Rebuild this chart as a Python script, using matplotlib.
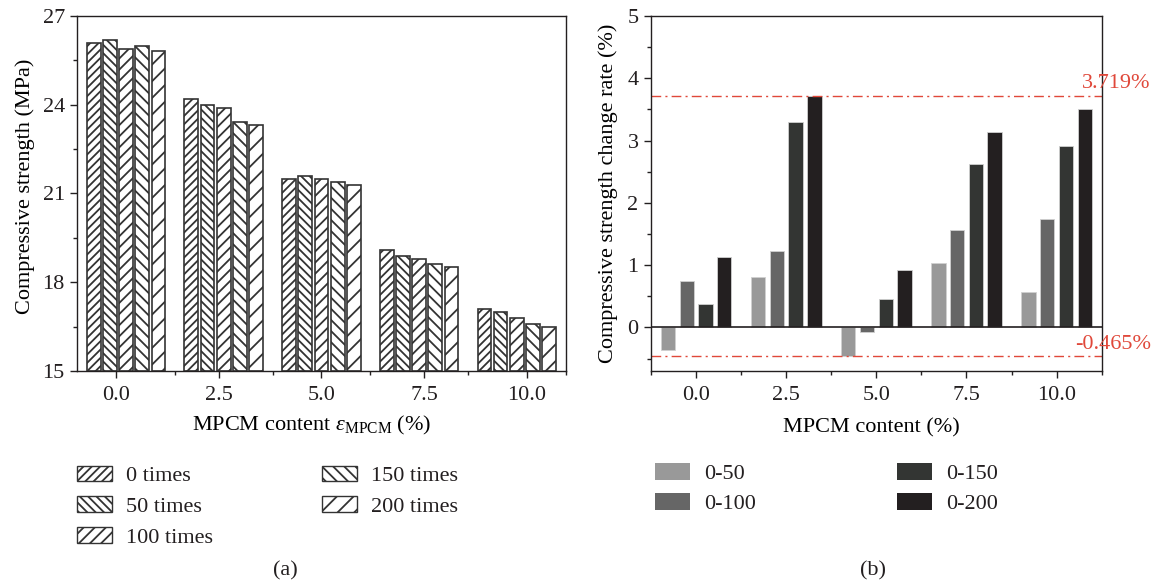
import numpy as np
import matplotlib
matplotlib.use("Agg")
import matplotlib.pyplot as plt
from matplotlib.patches import Patch
from matplotlib.ticker import FixedLocator
import matplotlib.transforms as mtransforms

plt.rcParams['font.family'] = 'Liberation Serif'
plt.rcParams['mathtext.fontset'] = 'custom'
plt.rcParams['mathtext.rm'] = 'Liberation Serif'
plt.rcParams['mathtext.it'] = 'Liberation Serif:italic'
plt.rcParams['font.size'] = 16
plt.rcParams['hatch.linewidth'] = 1.3
plt.rcParams['axes.linewidth'] = 1.0
plt.rcParams['text.color'] = '#231f20'

# compressive strength (MPa) after freeze-thaw cycles
content = ['0.0', '2.5', '5.0', '7.5', '10.0']
cycles = ['0 times', '50 times', '100 times', '150 times', '200 times']
strength_0 = [26.1, 24.2, 21.5, 19.1, 17.1]
strength_50 = [26.2, 24.0, 21.6, 18.9, 17.0]
strength_100 = [25.9, 23.9, 21.5, 18.8, 16.8]
strength_150 = [26.0, 23.4, 21.4, 18.6, 16.6]
strength_200 = [25.8, 23.3, 21.3, 18.5, 16.5]

# change rate (%) between cycle counts
ranges = ['0-50', '0-100', '0-150', '0-200']
rate_50 = [-0.37, 0.81, -0.465, 1.03, 0.57]
rate_100 = [0.75, 1.23, -0.08, 1.56, 1.74]
rate_150 = [0.37, 3.30, 0.45, 2.62, 2.92]
rate_200 = [1.13, 3.719, 0.92, 3.13, 3.50]
rate_max = 3.719
rate_min = -0.465

hatches = ['////', '\\\\\\\\', '///', '\\\\\\', '//']
greys = ['#999999', '#666666', '#333533', '#231f20']
red = '#e0483a'
ink = '#231f20'

fig = plt.figure(figsize=(11.57, 5.86), dpi=100)
ax1 = fig.add_axes([0.0668, 0.3669, 0.4221, 0.6058])
ax2 = fig.add_axes([0.5627, 0.3669, 0.3895, 0.6058])

idx = np.arange(len(content))

# (a) hatched bars
series = [strength_0, strength_50, strength_100, strength_150, strength_200]
pitch, width = 0.166, 0.141
for k, vals in enumerate(series):
    ax1.bar(idx + (k - 2) * pitch, np.array(vals) - 15, width, bottom=15,
            facecolor='white', edgecolor='#333333', linewidth=1.2,
            hatch=hatches[k], label=cycles[k])

ax1.set_xlim(-0.5, 4.5)
ax1.set_ylim(15, 27)
ax1.set_yticks([15, 18, 21, 24, 27])
ax1.yaxis.set_minor_locator(FixedLocator(np.arange(16.5, 27, 3)))
# category labels sit on a slightly wider spacing than the bar groups
ax1.set_xticks(2 + (idx - 2) * 1.05)
ax1.set_xticklabels(content)
ax1.xaxis.set_minor_locator(FixedLocator(np.arange(0.5, 4.6, 1.0)))
ax1.set_ylabel('Compressive strength (MPa)')
ax1.set_xlabel(r'MPCM content $\varepsilon_{\mathrm{MPCM}}$ (%)')
ax1.yaxis.set_label_coords(-0.087, 0.52)
ax1.xaxis.set_label_coords(0.48, -0.122)

# (b) grey bars
rates = [rate_50, rate_100, rate_150, rate_200]
pitch, width = 0.208, 0.159
for k, vals in enumerate(rates):
    ax2.bar(idx + (k - 1.5) * pitch, vals, width, color=greys[k],
            edgecolor='#d0d0d0', linewidth=0.6, label=ranges[k])
ax2.axhline(0, color=ink, lw=1.2)

dash = (0, (7, 3, 1.5, 3))
trans = mtransforms.blended_transform_factory(ax2.transAxes, ax2.transData)
for v in (rate_max, rate_min):
    ax2.axhline(v, color=red, lw=1.0, linestyle=dash)
    ax2.annotate('%.3f%%' % v, xy=(1.109, v), xycoords=trans,
                 xytext=(0, 2), textcoords='offset points',
                 ha='right', va='bottom', color=red, fontsize=16,
                 annotation_clip=False)

ax2.set_xlim(-0.5, 4.5)
ax2.set_ylim(-0.7, 5)
ax2.set_yticks([0, 1, 2, 3, 4, 5])
ax2.yaxis.set_minor_locator(FixedLocator(np.arange(-0.5, 5, 0.5)))
ax2.set_xticks(idx)
ax2.set_xticklabels(content)
ax2.xaxis.set_minor_locator(FixedLocator(np.arange(-0.5, 4.6, 1.0)))
ax2.set_ylabel('Compressive strength change rate (%)')
ax2.set_xlabel('MPCM content (%)')
ax2.yaxis.set_label_coords(-0.073, 0.5)
ax2.xaxis.set_label_coords(0.49, -0.133)

for ax in (ax1, ax2):
    for s in ax.spines.values():
        s.set_color(ink)
    ax.tick_params(which='major', direction='out', length=5, width=1.0,
                   colors=ink, labelsize=16, pad=4)
    ax.tick_params(which='minor', direction='out', length=3, width=1.0,
                   colors=ink)
    ax.tick_params(axis='x', which='major', pad=6)

# legends below each panel
h1 = [Patch(facecolor='white', edgecolor='#333333', hatch=hatches[k],
            label=cycles[k]) for k in range(5)]
fig.legend(handles=h1, loc='upper left', bbox_to_anchor=(0.0665, 0.205),
           ncol=2, frameon=False, borderpad=0, borderaxespad=0,
           handlelength=1.6, handleheight=0.7, handletextpad=0.6,
           labelspacing=0.45, columnspacing=4.9, fontsize=16)

h2 = [Patch(facecolor=greys[k], label=ranges[k]) for k in range(4)]
fig.legend(handles=h2, loc='upper left', bbox_to_anchor=(0.566, 0.21),
           ncol=2, frameon=False, borderpad=0, borderaxespad=0,
           handlelength=1.6, handleheight=0.8, handletextpad=0.6,
           labelspacing=0.4, columnspacing=6.35, fontsize=16)

fig.text(0.2468, 0.025, '(a)', ha='center', va='center', fontsize=16)
fig.text(0.7545, 0.025, '(b)', ha='center', va='center', fontsize=16)

fig.savefig('out.png', dpi=100)
